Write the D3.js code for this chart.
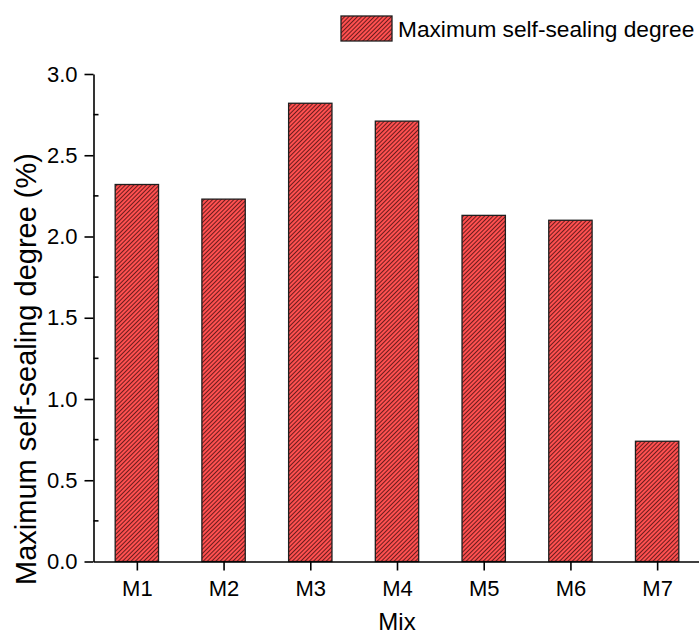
<!DOCTYPE html>
<html><head><meta charset="utf-8">
<script src="https://cdn.jsdelivr.net/npm/d3@7"></script>
<style>html,body{margin:0;padding:0;background:#fff;}svg{display:block;font-family:"Liberation Sans",Arial,sans-serif;}</style>
</head><body>
<script>
const categories = ["M1","M2","M3","M4","M5","M6","M7"];
const values = [2.32, 2.23, 2.82, 2.71, 2.13, 2.10, 0.74];
const yTicks = [0.0, 0.5, 1.0, 1.5, 2.0, 2.5, 3.0];
const yMinorTicks = [0.25, 0.75, 1.25, 1.75, 2.25, 2.75];
const seriesName = "Maximum self-sealing degree";
const yTitle = "Maximum self-sealing degree (%)";
const xTitle = "Mix";

const W = 699, H = 637;
const mLeft = 93.5, mRight = 700.5, mTop = 74, mBottom = 561.5;
const svg = d3.select("body").append("svg").attr("width", W).attr("height", H);

const defs = svg.append("defs");
const pat = defs.append("pattern").attr("id","hatch").attr("patternUnits","userSpaceOnUse")
  .attr("width",3).attr("height",3).attr("patternTransform","rotate(45)");
pat.append("rect").attr("width",3).attr("height",3).attr("fill","#ff5050");
pat.append("line").attr("x1",0.5).attr("y1",0).attr("x2",0.5).attr("y2",3)
  .attr("stroke","#3a0c0c").attr("stroke-width",0.75);

const x = d3.scalePoint().domain(categories).range([mLeft, mRight]).padding(0.5);
const step = x.step();
const barW = step * 0.5;
const y = d3.scaleLinear().domain([0, 3]).range([mBottom, mTop]);

// bars
svg.append("g").selectAll("rect").data(values).join("rect")
  .attr("x", (d,i) => x(categories[i]) - barW/2)
  .attr("y", d => y(d))
  .attr("width", barW)
  .attr("height", d => y(0) - y(d))
  .attr("fill", "url(#hatch)")
  .attr("stroke", "#1f1f1f").attr("stroke-width", 1.3);

// y axis
const yAxis = svg.append("g").attr("transform", `translate(${mLeft},0)`)
  .call(d3.axisLeft(y).tickValues(yTicks).tickFormat(d3.format(".1f")).tickSize(9).tickSizeOuter(0));
yAxis.select(".domain").attr("stroke","#000").attr("stroke-width",1.6);
yAxis.selectAll(".tick line").attr("stroke","#000").attr("stroke-width",1.6);
yAxis.selectAll(".tick text").attr("font-size",22).attr("fill","#000").attr("x",-16);
svg.append("g").selectAll("line").data(yMinorTicks).join("line")
  .attr("x1", mLeft).attr("x2", mLeft + 5)
  .attr("y1", d => y(d)).attr("y2", d => y(d))
  .attr("stroke","#000").attr("stroke-width",1.6);

// x axis
const xAxis = svg.append("g").attr("transform", `translate(0,${mBottom})`)
  .call(d3.axisBottom(x).tickSize(9).tickSizeOuter(0));
xAxis.select(".domain").attr("stroke","#000").attr("stroke-width",1.6);
xAxis.selectAll(".tick line").attr("stroke","#000").attr("stroke-width",1.6);
xAxis.selectAll(".tick text").attr("font-size",22).attr("fill","#000").attr("y",34).attr("dy",null);

// titles
svg.append("text").attr("transform", `translate(36,369) rotate(-90)`)
  .attr("text-anchor","middle").attr("font-size",29).attr("fill","#000").text(yTitle);
svg.append("text").attr("x", (mLeft+mRight)/2).attr("y", 630)
  .attr("text-anchor","middle").attr("font-size",24).attr("fill","#000").text(xTitle);

// legend
svg.append("rect").attr("x",341).attr("y",16).attr("width",51).attr("height",25)
  .attr("fill","url(#hatch)").attr("stroke","#1f1f1f").attr("stroke-width",1.3);
svg.append("text").attr("x",398).attr("y",36.5).attr("font-size",22.7).attr("fill","#000").text(seriesName);
</script>
</body></html>
